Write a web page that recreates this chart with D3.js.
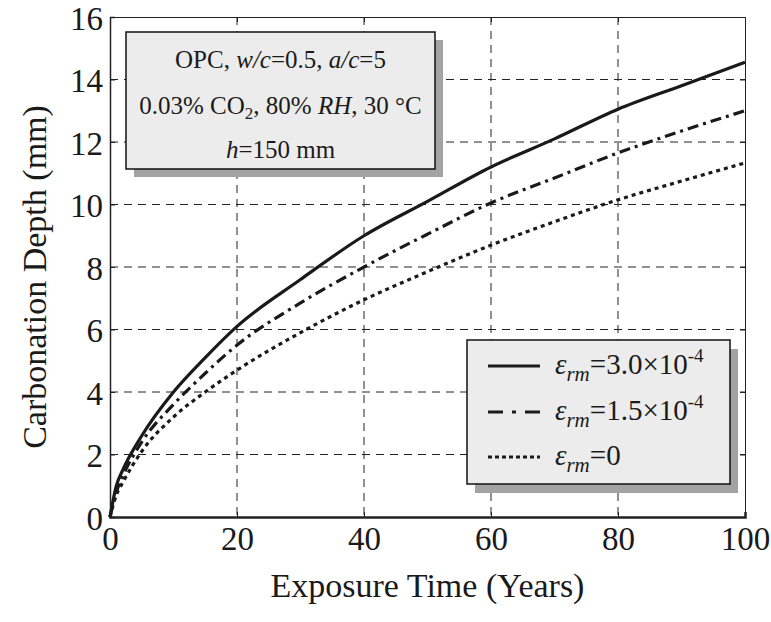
<!DOCTYPE html>
<html>
<head>
<meta charset="utf-8">
<script src="https://cdn.jsdelivr.net/npm/d3@7"></script>
<style>
  body { margin: 0; background: #fff; }
  text { font-family: "Liberation Serif", "DejaVu Serif", serif; fill: #1a1a1a; }
</style>
</head>
<body>
<script>
// exposure time (years) and carbonation depth (mm) for each strain level
var years   = [0, 1, 2, 5, 10, 15, 20, 30, 40, 50, 60, 70, 80, 90, 100];
var depthHi = [0, 1.0, 1.5, 2.6, 4.0, 5.1, 6.1, 7.6, 9.0, 10.1, 11.2, 12.1, 13.05, 13.8, 14.55];
var depthMd = [0, 0.8, 1.3, 2.4, 3.6, 4.6, 5.5, 6.85, 8.0, 9.05, 10.05, 10.85, 11.65, 12.35, 13.0];
var depthLo = [0, 0.7, 1.1, 2.1, 3.2, 4.0, 4.7, 5.9, 6.95, 7.85, 8.7, 9.45, 10.15, 10.75, 11.33];
var xTicks = [0, 20, 40, 60, 80, 100];
var yTicks = [0, 2, 4, 6, 8, 10, 12, 14, 16];
var legendVals = ["3.0×10", "1.5×10", "0"];
var legendExp = ["-4", "-4", ""];

var W = 771, H = 622;
var margin = {top: 17, right: 26, bottom: 105, left: 110};
var w = W - margin.left - margin.right,
    h = H - margin.top - margin.bottom;

var svg = d3.select('body').append('svg')
    .attr('width', W)
    .attr('height', H);
var g = svg.append('g')
    .attr('transform', 'translate(' + margin.left + ',' + margin.top + ')');

var x = d3.scaleLinear().domain([0, 100]).range([0, w]);
var y = d3.scaleLinear().domain([0, 16]).range([h, 0]);

// grid
g.selectAll('.vgrid')
    .data(xTicks.slice(1, -1))
    .enter().append('line')
    .attr('x1', function (d) { return x(d) }).attr('x2', function (d) { return x(d) })
    .attr('y1', 0).attr('y2', h)
    .attr('stroke', '#222').attr('stroke-width', 1)
    .attr('stroke-dasharray', '8,6');
g.selectAll('.hgrid')
    .data(yTicks.slice(1, -1))
    .enter().append('line')
    .attr('y1', function (d) { return y(d) }).attr('y2', function (d) { return y(d) })
    .attr('x1', 0).attr('x2', w)
    .attr('stroke', '#222').attr('stroke-width', 1)
    .attr('stroke-dasharray', '8,6');

// axes (ticks inside, on all sides)
var xAxis = d3.axisBottom(x).tickValues(xTicks).tickSize(-5).tickPadding(10);
var yAxis = d3.axisLeft(y).tickValues(yTicks).tickSize(-5).tickPadding(7);
var gx = g.append('g').attr('transform', 'translate(0,' + h + ')').call(xAxis);
var gy = g.append('g').call(yAxis);
g.append('g').call(d3.axisTop(x).tickValues(xTicks).tickSize(-5).tickFormat(''));
g.append('g').attr('transform', 'translate(' + w + ',0)')
    .call(d3.axisRight(y).tickValues(yTicks).tickSize(-5).tickFormat(''));
g.selectAll('.domain').attr('stroke', '#222');
g.selectAll('.tick line').attr('stroke', '#222');
gx.select('.domain').attr('stroke-width', 2.5);
gy.select('.domain').attr('stroke-width', 1.5);
[gx, gy].forEach(function (a) {
  a.selectAll('text')
    .style('font-family', '"Liberation Serif", serif')
    .style('font-size', '33px')
    .attr('fill', '#1a1a1a');
});
gx.selectAll('text').attr('dy', '0.7em');
gy.selectAll('text').attr('dy', '0.37em');

// axis titles
svg.append('text')
    .attr('x', margin.left + w / 2)
    .attr('y', 597)
    .attr('text-anchor', 'middle')
    .style('font-size', '34px')
    .text('Exposure Time (Years)');
svg.append('text')
    .attr('transform', 'translate(46,277) rotate(-90)')
    .attr('text-anchor', 'middle')
    .style('font-size', '34px')
    .text('Carbonation Depth (mm)');

// curves
var series = [
  {vals: depthHi, dash: null},
  {vals: depthMd, dash: '11,5,3,5'},
  {vals: depthLo, dash: '4,4'}
];
var line = d3.line()
    .x(function (d) { return x(d[0]) })
    .y(function (d) { return y(d[1]) })
    .curve(d3.curveMonotoneX);
series.forEach(function (s) {
  g.append('path')
      .datum(years.map(function (t, i) { return [t, s.vals[i]] }))
      .attr('d', line)
      .attr('fill', 'none')
      .attr('stroke', '#1a1a1a')
      .attr('stroke-width', 3.2)
      .attr('stroke-dasharray', s.dash);
});

// info box (top left)
var bx = 126, by = 32, bw = 309, bh = 137;
svg.append('rect').attr('x', bx + 8).attr('y', by + 8).attr('width', bw).attr('height', bh).attr('fill', '#a3a3a3');
svg.append('rect').attr('x', bx).attr('y', by).attr('width', bw).attr('height', bh)
    .attr('fill', '#ececec').attr('stroke', '#111').attr('stroke-width', 1.5);
var cx = bx + bw / 2;
var t1 = svg.append('text').attr('x', cx).attr('y', 68).attr('text-anchor', 'middle').style('font-size', '25px');
t1.append('tspan').text('OPC, ');
t1.append('tspan').style('font-style', 'italic').text('w/c');
t1.append('tspan').text('=0.5, ');
t1.append('tspan').style('font-style', 'italic').text('a/c');
t1.append('tspan').text('=5');
var t2 = svg.append('text').attr('x', cx).attr('y', 114).attr('text-anchor', 'middle').style('font-size', '25px');
t2.append('tspan').text('0.03% CO');
t2.append('tspan').attr('dy', 5).style('font-size', '17px').text('2');
t2.append('tspan').attr('dy', -5).text(', 80% ');
t2.append('tspan').style('font-style', 'italic').text('RH');
t2.append('tspan').text(', 30 °C');
var t3 = svg.append('text').attr('x', cx).attr('y', 158).attr('text-anchor', 'middle').style('font-size', '25px');
t3.append('tspan').style('font-style', 'italic').text('h');
t3.append('tspan').text('=150 mm');

// legend (bottom right)
var lx = 467, ly = 340, lw = 263, lh = 144;
svg.append('rect').attr('x', lx + 8).attr('y', ly + 9).attr('width', lw).attr('height', lh).attr('fill', '#a3a3a3');
svg.append('rect').attr('x', lx).attr('y', ly).attr('width', lw).attr('height', lh)
    .attr('fill', '#ececec').attr('stroke', '#111').attr('stroke-width', 1.5);
var rows = [366, 412, 457];
var legDash = [null, '15,9,4,9', '4,3'];
rows.forEach(function (ry, i) {
  svg.append('line')
      .attr('x1', 488).attr('x2', 540).attr('y1', ry).attr('y2', ry)
      .attr('stroke', '#1a1a1a').attr('stroke-width', 3)
      .attr('stroke-dasharray', legDash[i]);
  var t = svg.append('text').attr('x', 555).attr('y', ry + 8).style('font-size', '29px');
  t.append('tspan').style('font-style', 'italic').text('ε');
  t.append('tspan').attr('dy', 7).style('font-style', 'italic').style('font-size', '21px').text('rm');
  t.append('tspan').attr('dy', -7).text('=' + legendVals[i]);
  if (legendExp[i]) t.append('tspan').attr('dy', -12).style('font-size', '19px').text(legendExp[i]);
});
</script>
</body>
</html>
